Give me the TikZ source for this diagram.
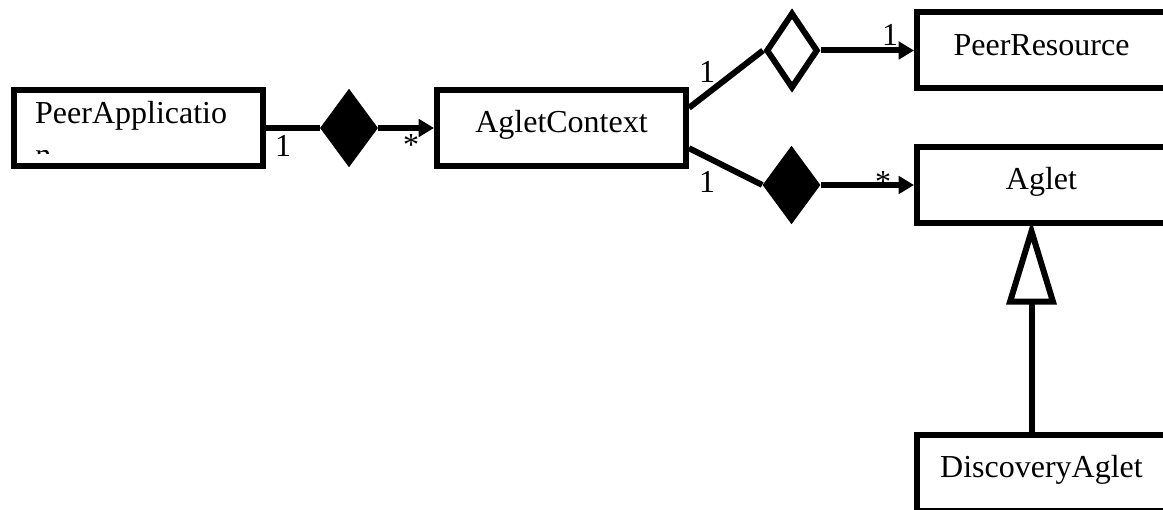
\documentclass[tikz,border=0pt]{standalone}
\usepackage{fontspec}
\setmainfont{Liberation Serif}
\usetikzlibrary{positioning,arrows.meta,shapes.geometric,calc}

\tikzset{
  classbox/.style={draw, line width=4.5pt, rectangle, minimum width=186.75pt,
    minimum height=57pt, inner sep=0pt, text height=17pt, text depth=10pt,
    font=\fontsize{24}{28}\selectfont},
  aggr/.style={diamond, fill=black, inner sep=0pt, minimum width=43.5pt, minimum height=59pt},
  shared/.style={diamond, draw, line width=4.5pt, fill=white, inner sep=0pt,
    minimum width=39pt, minimum height=57pt},
  link/.style={line width=4.5pt},
  navarrow/.style={link, -{Triangle[length=11.5pt, width=13pt]}},
  inherit/.style={link, shorten >=-4pt, -{Triangle[open, length=63pt, width=37pt]}},
  mult/.style={font=\fontsize{24}{28}\selectfont, inner sep=0pt},
}

\begin{document}
\begin{tikzpicture}[x=0.75pt, y=-0.75pt]
\useasboundingbox (0,0) rectangle (1163,510);
\clip (0,0) rectangle (1163,510);

% classes
\node[classbox, text depth=24.5pt, text width=155pt, align=left] (peerapp) at (138.5,128) {PeerApplicatio};
\node[classbox] (context) at (561.5,128) {AgletContext};
\node[classbox] (resource) at (1041.5,50.5) {PeerResource};
\node[classbox] (aglet) at (1041.5,185) {Aglet};
\node[classbox] (discovery) at (1041.5,473) {DiscoveryAglet};

% wrapped last letter, cut off by the box
\begin{scope}
  \clip (30,150) rectangle (60,153.5);
  \node[mult, anchor=base west] (wrap) at (35,165) {n};
\end{scope}

% aggregation diamonds
\node[aggr] (owns) at (349,128) {};
\node[shared] (uses) at (792,50.5) {};
\node[aggr] (hosts) at (791.5,185) {};

% associations
\draw[link] (peerapp) -- (owns);
\draw[navarrow] (owns) -- (context);
\draw[link] (context.9) -- (uses.west);
\draw[navarrow] (uses) -- (resource);
\draw[link] (context.-9) -- (hosts.west);
\draw[navarrow] (hosts) -- (aglet);

% generalisation
\draw[inherit] ([xshift=-7.5pt]discovery.north) -- ([xshift=-7.5pt]aglet.south);

% multiplicities
\node[mult] (m1) at (283,146) {1};
\node[mult] (m2) at (411,145) {*};
\node[mult] (m3) at (707,72) {1};
\node[mult] (m4) at (707,182) {1};
\node[mult] (m5) at (890,35) {1};
\node[mult] (m6) at (883,182) {*};
\end{tikzpicture}
\end{document}
